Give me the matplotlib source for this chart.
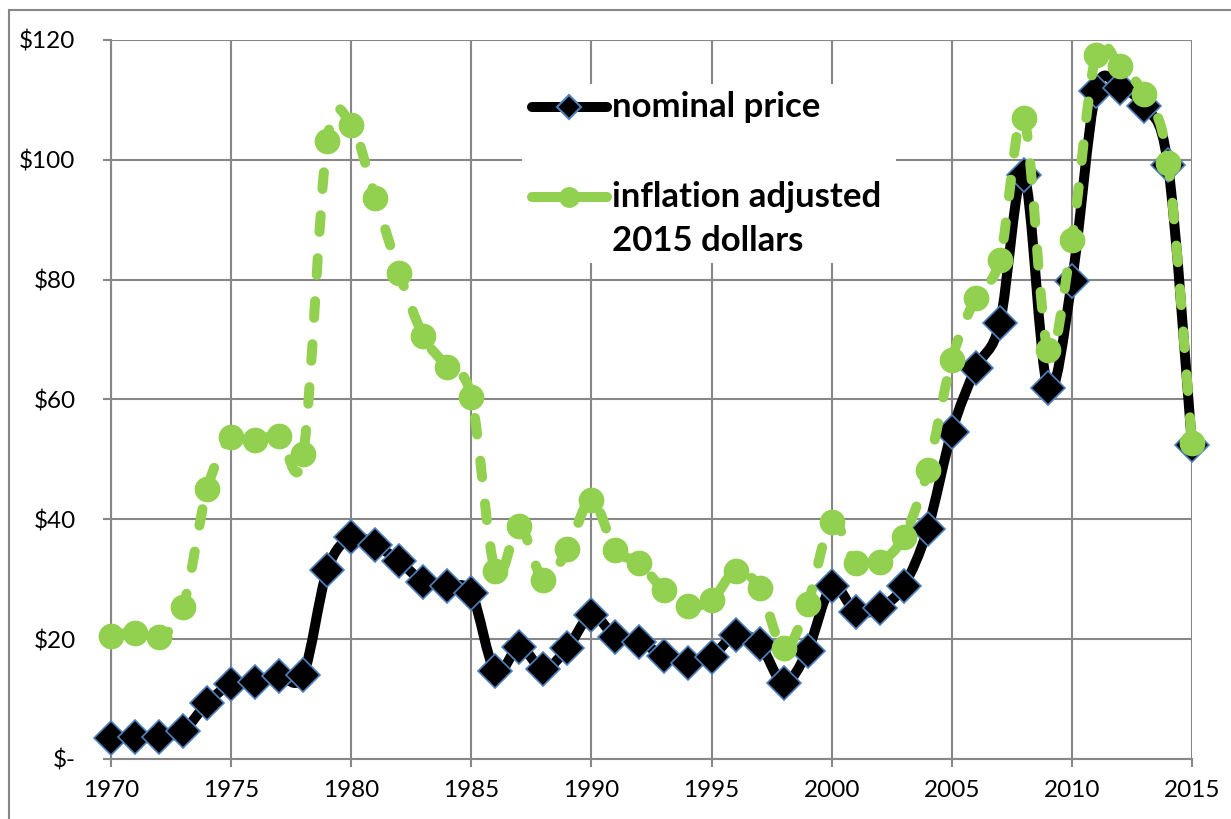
#!/usr/bin/env python3
"""
Oil price chart: nominal vs inflation adjusted (2015 dollars), 1970-2015
"""
import matplotlib
matplotlib.use('Agg')
import matplotlib.pyplot as plt
import numpy as np
from matplotlib.path import Path
from matplotlib.patches import PathPatch, Rectangle
from matplotlib.lines import Line2D

plt.rcParams['font.family'] = ['Lato', 'DejaVu Sans']
plt.rcParams['lines.scale_dashes'] = False

# data
years = list(range(1970, 2016))
nominal = [3.5, 3.6, 3.6, 4.7, 9.3, 12.5, 12.9, 13.8, 14.0, 31.5,
           37.0, 35.7, 33.0, 29.6, 28.8, 27.7, 14.6, 18.7, 15.0, 18.5,
           24.0, 20.4, 19.6, 17.2, 16.0, 17.1, 20.7, 19.2, 12.7, 18.1,
           28.8, 24.6, 25.2, 28.9, 38.4, 54.6, 65.2, 72.7, 97.5, 61.9,
           79.7, 111.4, 112.0, 108.9, 99.2, 52.4]
adjusted = [20.6, 21.1, 20.4, 25.4, 45.0, 53.8, 53.2, 53.9, 50.9, 103.2,
            105.8, 93.7, 81.1, 70.6, 65.4, 60.4, 31.3, 38.8, 29.9, 35.0,
            43.2, 34.9, 32.7, 28.2, 25.5, 26.5, 31.3, 28.5, 18.5, 25.9,
            39.6, 32.7, 32.9, 37.1, 48.2, 66.6, 77.0, 83.3, 107.0, 68.3,
            86.6, 117.5, 115.6, 110.9, 99.5, 52.7]

x_ticks = [1970, 1975, 1980, 1985, 1990, 1995, 2000, 2005, 2010, 2015]
y_ticks = [0, 20, 40, 60, 80, 100, 120]
y_ticklabels = ['$-', '$20', '$40', '$60', '$80', '$100', '$120']

labels = ['nominal price', 'inflation adjusted', '2015 dollars']

COLORS = {
    'nominal': '#000000',
    'adjusted': '#92D050',
    'edge': '#4F81BD',
    'grid': '#878787',
}


def smooth_path(xs, ys):
    """Excel-style smoothed line as cubic Bezier path (Catmull-Rom)"""
    pts = np.column_stack([xs, ys]).astype(float)
    n = len(pts)
    verts = [pts[0]]
    codes = [Path.MOVETO]
    for i in range(n - 1):
        p0 = pts[i - 1] if i > 0 else pts[i]
        p1 = pts[i]
        p2 = pts[i + 1]
        p3 = pts[i + 2] if i + 2 < n else pts[i + 1]
        c1 = p1 + (p2 - p0) / 6.0
        c2 = p2 - (p3 - p1) / 6.0
        verts += [c1, c2, p2]
        codes += [Path.CURVE4] * 3
    return Path(verts, codes)


fig = plt.figure(figsize=(12.31, 8.19), dpi=100)
ax = fig.add_axes([0.0902, 0.0733, 0.8781, 0.8779])

# outer chart border (top + left visible)
fig.patches.append(Rectangle((9 / 1231, -0.05), 1.1, 1 - 10 / 819 + 0.05,
                             transform=fig.transFigure, fill=False,
                             edgecolor=COLORS['grid'], lw=1.5, zorder=0))

ax.set_xlim(1970, 2015)
ax.set_ylim(0, 120)
ax.set_xticks(x_ticks)
ax.set_yticks(y_ticks)
ax.set_yticklabels(y_ticklabels)
ax.tick_params(axis='both', labelsize=17.5, length=6, width=1.5,
               color=COLORS['grid'], direction='out')
ax.tick_params(axis='y', pad=19.5)
ax.tick_params(axis='x', pad=9)
ax.grid(True, color=COLORS['grid'], lw=1.5, zorder=0)
ax.set_axisbelow(True)
for side in ['top', 'right']:
    ax.spines[side].set_visible(False)
for side in ['left', 'bottom']:
    ax.spines[side].set_color(COLORS['grid'])
    ax.spines[side].set_linewidth(1.5)

# nominal line + markers
p_nom = PathPatch(smooth_path(years, nominal), facecolor='none',
                  edgecolor=COLORS['nominal'], lw=7.2, capstyle='round',
                  joinstyle='round', zorder=3, clip_on=False)
ax.add_patch(p_nom)
ax.plot(years, nominal, ls='none', marker='D', ms=17,
        mfc=COLORS['nominal'], mec=COLORS['edge'], mew=1.2, zorder=4,
        clip_on=False)

# adjusted line + markers
p_adj = PathPatch(smooth_path(years, adjusted), facecolor='none',
                  edgecolor=COLORS['adjusted'], lw=7.2, capstyle='round',
                  joinstyle='round', linestyle=(0, (12, 19)), zorder=5,
                  clip_on=False)
ax.add_patch(p_adj)
ax.plot(years, adjusted, ls='none', marker='o', ms=17.5,
        mfc=COLORS['adjusted'], mec=COLORS['adjusted'], zorder=6,
        clip_on=False)

# legend box (manual, Excel style)
ax.add_patch(Rectangle((0.380, 0.690), 0.346, 0.249, transform=ax.transAxes,
                       facecolor='white', edgecolor='none', zorder=2))
ax.add_line(Line2D([0.389, 0.459], [0.907, 0.907], transform=ax.transAxes,
                   color=COLORS['nominal'], lw=7.2, solid_capstyle='round',
                   zorder=7))
ax.add_line(Line2D([0.424], [0.907], transform=ax.transAxes, marker='D',
                   ms=12, mfc=COLORS['nominal'], mec=COLORS['edge'], mew=1.5,
                   zorder=8))
ax.add_line(Line2D([0.389, 0.459], [0.782, 0.782], transform=ax.transAxes,
                   color=COLORS['adjusted'], lw=7.2, solid_capstyle='round',
                   zorder=7))
ax.add_line(Line2D([0.424], [0.782], transform=ax.transAxes, marker='o',
                   ms=14, mfc=COLORS['adjusted'], mec=COLORS['adjusted'],
                   zorder=8))
for label, ypos in zip(labels, [0.907, 0.782, 0.720]):
    ax.text(0.463, ypos, label, transform=ax.transAxes, fontsize=25,
            fontweight='bold', va='center', ha='left', zorder=8)

plt.savefig('out.png', dpi=100)
plt.close()
